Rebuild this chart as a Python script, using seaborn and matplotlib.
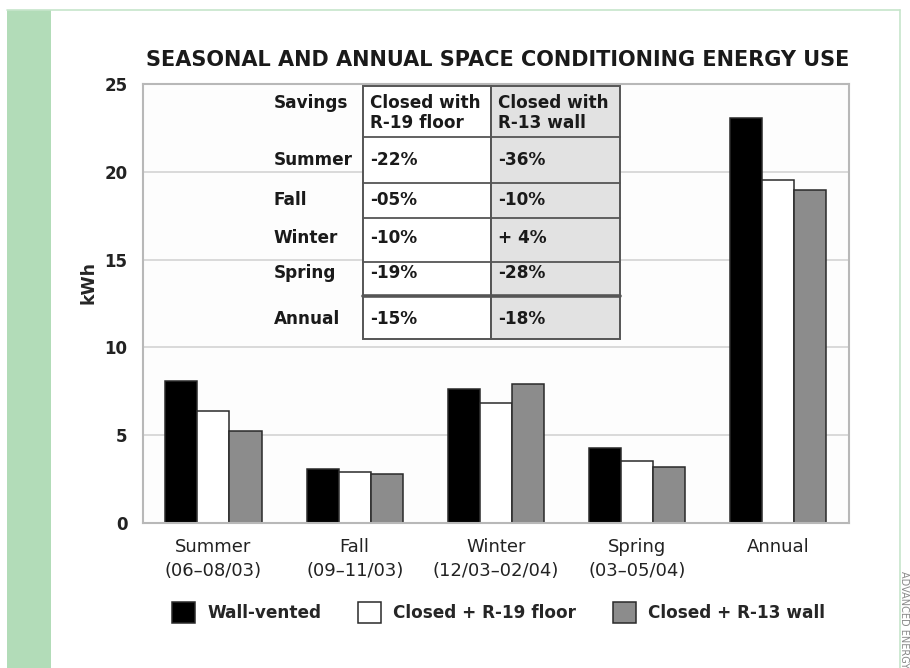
import matplotlib
matplotlib.use("Agg")
import matplotlib.pyplot as plt
import pandas as pd
import seaborn as sns
from matplotlib.patches import Rectangle, Patch

# Data (kWh)
periods = ["Summer\n(06\u201308/03)", "Fall\n(09\u201311/03)", "Winter\n(12/03\u201302/04)",
           "Spring\n(03\u201305/04)", "Annual"]
wall_vented = [8.1, 3.05, 7.6, 4.25, 23.05]
closed_r19_floor = [6.35, 2.9, 6.85, 3.5, 19.55]
closed_r13_wall = [5.2, 2.75, 7.9, 3.15, 18.95]
series_names = ["Wall-vented", "Closed + R-19 floor", "Closed + R-13 wall"]
series_colors = ["#000000", "#ffffff", "#8c8c8c"]

# Savings table
row_labels = ["Summer", "Fall", "Winter", "Spring", "Annual"]
floor_savings = ["-22%", "-05%", "-10%", "-19%", "-15%"]
wall_savings = ["-36%", "-10%", "+ 4%", "-28%", "-18%"]

df = pd.DataFrame({
    "period": periods * 3,
    "kwh": wall_vented + closed_r19_floor + closed_r13_wall,
    "series": [s for s in series_names for _ in periods],
})

sns.set_style("white")
plt.rcParams["font.family"] = ["DejaVu Sans"]

fig = plt.figure(figsize=(9.1, 6.68), dpi=100)
ax = fig.add_axes([0.157, 0.2175, 0.776, 0.6565])

sns.barplot(data=df, x="period", y="kwh", hue="series", order=periods,
            hue_order=series_names, palette=series_colors, width=0.68,
            gap=0, ax=ax, legend=False, saturation=1)
for p in ax.patches:
    p.set_edgecolor("#2a2a2a")
    p.set_linewidth(1.1)
    p.set_zorder(2)

ax.set_ylim(0, 25)
ax.set_xlim(-0.5, 4.5)
ax.set_yticks([0, 5, 10, 15, 20, 25])
ax.set_facecolor("#fdfdfd")
ax.grid(axis="y", color="#d4d4d4", linewidth=1.2)
ax.set_axisbelow(True)
for s in ax.spines.values():
    s.set_color("#b8b8b8")
    s.set_linewidth(1.5)

ax.tick_params(axis="y", length=5, color="#b8b8b8", pad=6, labelsize=12)
for lab in ax.get_yticklabels():
    lab.set_fontweight("bold")
    lab.set_color("#222222")
ax.set_xticks(range(len(periods)))
ax.set_xticklabels(periods, fontsize=13, linespacing=1.45, color="#222222")
ax.tick_params(axis="x", length=0, pad=11)
ax.set_xticks([0.5, 1.5, 2.5, 3.5], minor=True)
ax.tick_params(axis="x", which="minor", length=4, color="#b8b8b8")
ax.set_xlabel("")
ax.set_ylabel("kWh", fontsize=12.5, fontweight="bold")
ax.yaxis.set_label_coords(-0.064, 0.547)

# Savings table inside the plot
x0, x1, x2 = 0.312, 0.4925, 0.6756
y_edges = [0.996, 0.880, 0.775, 0.694, 0.595, 0.517, 0.420]
ax.add_patch(Rectangle((x0, y_edges[-1]), x1 - x0, y_edges[0] - y_edges[-1],
                       transform=ax.transAxes, facecolor="white",
                       edgecolor="#555555", lw=1.4, zorder=3))
ax.add_patch(Rectangle((x1, y_edges[-1]), x2 - x1, y_edges[0] - y_edges[-1],
                       transform=ax.transAxes, facecolor="#e2e2e2",
                       edgecolor="#555555", lw=1.4, zorder=3))
for i, yy in enumerate(y_edges[1:-1]):
    ax.plot([x0, x2], [yy, yy], transform=ax.transAxes, color="#555555",
            lw=2.6 if i == 4 else 1.3, zorder=4, clip_on=False)

tkw = dict(transform=ax.transAxes, fontsize=12.2, fontweight="bold",
           color="#1a1a1a", va="center", zorder=5)
ax.text(0.1856, 0.958, "Savings", **tkw)
ax.text(0.3215, 0.934, "Closed with\nR-19 floor", linespacing=1.15, **tkw)
ax.text(0.503, 0.934, "Closed with\nR-13 wall", linespacing=1.15, **tkw)
row_y = [0.827, 0.735, 0.649, 0.569, 0.464]
for lab, a, b, yy in zip(row_labels, floor_savings, wall_savings, row_y):
    ax.text(0.1856, yy, lab, **tkw)
    ax.text(0.3215, yy, a, **tkw)
    ax.text(0.503, yy, b, **tkw)

# Title
fig.text(0.547, 0.910, "SEASONAL AND ANNUAL SPACE CONDITIONING ENERGY USE",
         ha="center", va="center", fontsize=15, fontweight="bold", color="#1a1a1a")

# Legend
handles = [Patch(facecolor=c, edgecolor="#2a2a2a", lw=1.1) for c in series_colors]
fig.legend(handles, series_names, loc="center", bbox_to_anchor=(0.548, 0.083),
           ncol=3, frameon=False, prop={"size": 12.2, "weight": "bold"},
           handlelength=1.35, handleheight=1.5, handletextpad=0.7, columnspacing=2.2)

# Page decoration: green stripe and frame
fig.patches.append(Rectangle((0.0077, 0), 0.0483, 0.985, transform=fig.transFigure,
                             facecolor="#b2dcb8", edgecolor="none", zorder=0))
fig.lines.append(plt.Line2D([0.0077, 0.989], [0.985, 0.985], transform=fig.transFigure,
                            color="#c6e5cb", lw=1.2))
fig.lines.append(plt.Line2D([0.989, 0.989], [0, 0.985], transform=fig.transFigure,
                            color="#c6e5cb", lw=1.2))
fig.text(0.9935, 0.145, "ADVANCED ENERGY", rotation=-90, ha="center", va="top",
         fontsize=7, color="#8a8a8a")

fig.savefig("out.png", dpi=100)
